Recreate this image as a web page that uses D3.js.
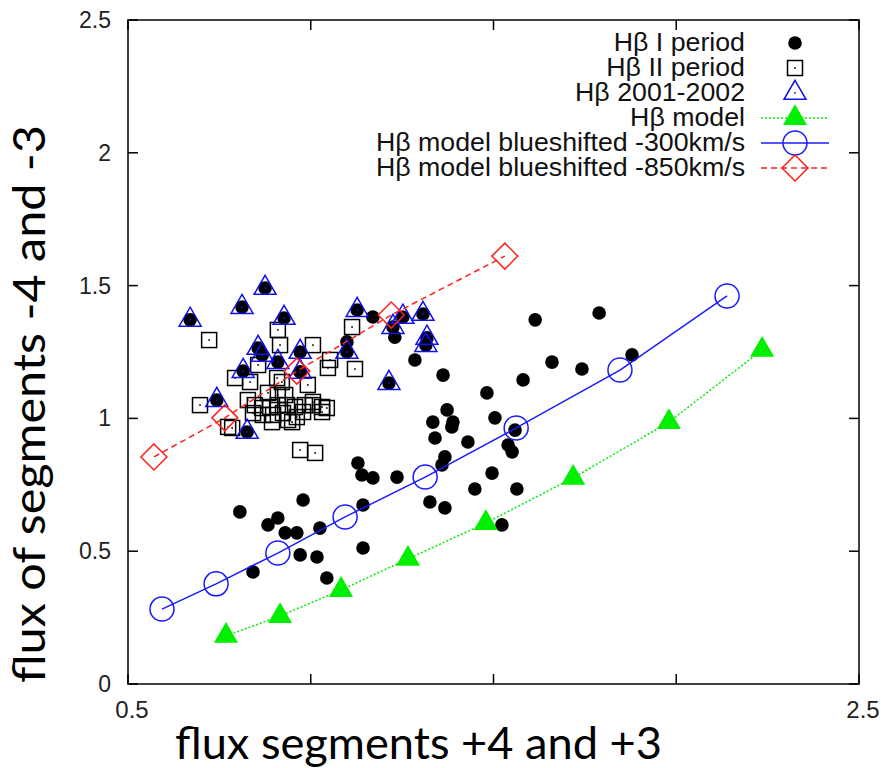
<!DOCTYPE html>
<html>
<head>
<meta charset="utf-8">
<script src="https://cdn.jsdelivr.net/npm/d3@7"></script>
<style>
  body { margin: 0; background: #fff; }
  svg { display: block; }
</style>
</head>
<body>
<div id="chart"></div>
<script>
// Hβ I period (filled black circles), [x, y]
const period1 = [
  [0.670, 1.371], [0.812, 1.419], [0.875, 1.491], [0.927, 1.378], [0.856, 1.265],
  [0.867, 1.239], [0.910, 1.212], [0.971, 1.250], [0.815, 1.178], [0.971, 1.175],
  [0.743, 1.069], [0.826, 0.949], [1.099, 1.250], [1.127, 1.408], [1.225, 1.344],
  [1.252, 1.382], [1.307, 1.393], [1.318, 1.303], [1.315, 1.276], [1.214, 1.133],
  [1.170, 1.382], [1.099, 1.288], [1.230, 1.306], [1.285, 1.220], [1.362, 1.163],
  [1.482, 1.096], [1.614, 1.371], [1.789, 1.397], [1.879, 1.239], [1.742, 1.186],
  [1.660, 1.212], [1.581, 1.145], [1.373, 1.032], [1.334, 0.986], [1.389, 0.986],
  [1.386, 0.968], [1.504, 1.002], [1.340, 0.926], [1.430, 0.911], [1.559, 0.956],
  [1.540, 0.900], [1.551, 0.874], [1.367, 0.855], [1.359, 0.825], [1.236, 0.779],
  [1.170, 0.776], [1.496, 0.794], [1.449, 0.734], [1.564, 0.734], [1.326, 0.685],
  [1.367, 0.663], [1.523, 0.599], [1.129, 0.832], [1.140, 0.787], [0.806, 0.648],
  [0.979, 0.693], [0.910, 0.625], [0.883, 0.599], [0.930, 0.569], [0.962, 0.569],
  [1.025, 0.587], [1.143, 0.674], [0.971, 0.486], [1.017, 0.478], [1.143, 0.512],
  [0.842, 0.422], [1.044, 0.399]
];

// Hβ II period (open squares)
const period2 = [
  [0.722, 1.295], [0.910, 1.333], [0.916, 1.276], [1.006, 1.276], [1.113, 1.344],
  [1.053, 1.220], [1.047, 1.190], [1.121, 1.186], [0.793, 1.152], [0.834, 1.137],
  [0.908, 1.152], [0.992, 1.126], [0.697, 1.050], [0.774, 0.968], [0.785, 0.964],
  [0.828, 1.069], [0.883, 1.096], [0.910, 1.088], [0.930, 1.088], [0.847, 1.050],
  [0.867, 1.039], [0.889, 1.043], [0.910, 1.050], [0.935, 1.050], [0.842, 1.020],
  [0.869, 1.013], [0.897, 1.013], [0.924, 1.020], [0.957, 1.043], [0.984, 1.050],
  [1.006, 1.050], [1.031, 1.043], [1.044, 1.039], [0.938, 0.994], [0.962, 1.005],
  [0.979, 1.024], [1.006, 1.062], [1.031, 1.024], [0.894, 0.986], [0.949, 0.986],
  [0.971, 0.881], [1.012, 0.870], [0.856, 1.201], [0.921, 1.137]
];

// Hβ 2001-2002 (open triangles)
const years2001 = [
  [0.670, 1.371], [0.812, 1.419], [0.875, 1.491], [0.927, 1.378], [0.856, 1.265],
  [0.867, 1.239], [0.910, 1.212], [0.971, 1.250], [0.815, 1.178], [0.971, 1.175],
  [0.743, 1.069], [0.826, 0.949], [1.099, 1.250], [1.127, 1.408], [1.225, 1.344],
  [1.252, 1.382], [1.307, 1.393], [1.318, 1.303], [1.315, 1.276], [1.214, 1.133]
];

// models
const model = [
  [0.768, 0.181], [0.916, 0.256], [1.083, 0.354], [1.266, 0.471],
  [1.479, 0.606], [1.718, 0.776], [1.980, 0.986], [2.235, 1.258]
];
const model300 = [
  [0.593, 0.282], [0.741, 0.377], [0.910, 0.493], [1.094, 0.629],
  [1.313, 0.779], [1.562, 0.964], [1.846, 1.182], [2.139, 1.461]
];
const model850 = [
  [0.571, 0.855], [0.765, 1.002], [0.962, 1.178], [1.220, 1.389], [1.531, 1.611]
];

const yTicks = [0, 0.5, 1, 1.5, 2, 2.5];
const yTickLabels = ["0", "0.5", "1", "1.5", "2", "2.5"];
const xTicks = [0.5, 1, 1.5, 2, 2.5];
const xTickLabels = ["0.5", "", "", "", "2.5"];

const legendLabels = [
  "Hβ I period", "Hβ II period", "Hβ 2001-2002", "Hβ model",
  "Hβ model blueshifted -300km/s", "Hβ model blueshifted -850km/s"
];

const W = 881, H = 768;
const pLeft = 128, pRight = 859, pTop = 20, pBottom = 684;

const svg = d3.select("#chart").append("svg")
  .attr("width", W).attr("height", H);

const x = d3.scaleLinear().domain([0.5, 2.5]).range([pLeft, pRight]);
const y = d3.scaleLinear().domain([0, 2.5]).range([pBottom, pTop]);

const tickFont = "'Liberation Sans', Arial, sans-serif";

// inward ticks on all four sides
const tickLen = 10;
xTicks.forEach(t => {
  svg.append("line").attr("x1", x(t)).attr("x2", x(t)).attr("y1", pBottom).attr("y2", pBottom - tickLen)
    .attr("stroke", "#000").attr("stroke-width", 1.5);
  svg.append("line").attr("x1", x(t)).attr("x2", x(t)).attr("y1", pTop).attr("y2", pTop + tickLen)
    .attr("stroke", "#000").attr("stroke-width", 1.5);
});
yTicks.forEach(t => {
  svg.append("line").attr("x1", pLeft).attr("x2", pLeft + tickLen).attr("y1", y(t)).attr("y2", y(t))
    .attr("stroke", "#000").attr("stroke-width", 1.5);
  svg.append("line").attr("x1", pRight).attr("x2", pRight - tickLen).attr("y1", y(t)).attr("y2", y(t))
    .attr("stroke", "#000").attr("stroke-width", 1.5);
});

// tick labels
yTicks.forEach((t, i) => {
  svg.append("text").attr("x", pLeft - 17).attr("y", y(t) + 8)
    .attr("text-anchor", "end").attr("font-family", tickFont).attr("font-size", 23)
    .attr("fill", "#222").text(yTickLabels[i]);
});
xTicks.forEach((t, i) => {
  if (!xTickLabels[i]) return;
  svg.append("text").attr("x", x(t) + 4).attr("y", pBottom + 34)
    .attr("text-anchor", "middle").attr("font-family", tickFont).attr("font-size", 24)
    .attr("fill", "#222").text(xTickLabels[i]);
});

// frame
svg.append("rect").attr("x", pLeft).attr("y", pTop)
  .attr("width", pRight - pLeft).attr("height", pBottom - pTop)
  .attr("fill", "none").attr("stroke", "#000").attr("stroke-width", 1.5);

// marker paths
function triPath(s) {
  // s = half width
  const h = s * Math.sqrt(3);
  return `M0,${-h * 2 / 3}L${s},${h / 3}L${-s},${h / 3}Z`;
}
function diamondPath(s) {
  return `M0,${-s}L${s},0L0,${s}L${-s},0Z`;
}

const plot = svg.append("g");

// Hβ I period
plot.selectAll("circle.p1").data(period1).join("circle")
  .attr("cx", d => x(d[0])).attr("cy", d => y(d[1])).attr("r", 6.8)
  .attr("fill", "#000");

// Hβ II period
plot.selectAll("g.p2").data(period2).join("g")
  .attr("transform", d => `translate(${x(d[0])},${y(d[1])})`)
  .each(function () {
    const g = d3.select(this);
    g.append("rect").attr("x", -7.5).attr("y", -7.5).attr("width", 15).attr("height", 15)
      .attr("fill", "none").attr("stroke", "#000").attr("stroke-width", 1.5);
    g.append("rect").attr("x", -0.8).attr("y", -0.8).attr("width", 1.6).attr("height", 1.6).attr("fill", "#000");
  });

// Hβ 2001-2002
plot.selectAll("g.p3").data(years2001).join("g")
  .attr("transform", d => `translate(${x(d[0])},${y(d[1])})`)
  .each(function () {
    const g = d3.select(this);
    g.append("path").attr("d", triPath(11)).attr("fill", "none")
      .attr("stroke", "#1010f0").attr("stroke-width", 1.5);
    g.append("rect").attr("x", -0.8).attr("y", -0.8).attr("width", 1.6).attr("height", 1.6).attr("fill", "#1010f0");
  });

const line = d3.line().x(d => x(d[0])).y(d => y(d[1]));

// Hβ model (green dotted, filled triangles)
plot.append("path").datum(model).attr("d", line).attr("fill", "none")
  .attr("stroke", "#00ee00").attr("stroke-width", 1.5).attr("stroke-dasharray", "2,2");
plot.selectAll("path.m0").data(model).join("path")
  .attr("transform", d => `translate(${x(d[0])},${y(d[1])})`)
  .attr("d", triPath(12)).attr("fill", "#00ee00");

// -300 km/s (blue solid, open circles)
plot.append("path").datum(model300).attr("d", line).attr("fill", "none")
  .attr("stroke", "#1a1aff").attr("stroke-width", 1.5);
plot.selectAll("circle.m3").data(model300).join("circle")
  .attr("cx", d => x(d[0])).attr("cy", d => y(d[1])).attr("r", 12)
  .attr("fill", "none").attr("stroke", "#1a1aff").attr("stroke-width", 1.5);

// -850 km/s (red dashed, open diamonds)
plot.append("path").datum(model850).attr("d", line).attr("fill", "none")
  .attr("stroke", "#ff2020").attr("stroke-width", 1.5).attr("stroke-dasharray", "6,4");
plot.selectAll("path.m8").data(model850).join("path")
  .attr("transform", d => `translate(${x(d[0])},${y(d[1])})`)
  .attr("d", diamondPath(13)).attr("fill", "none")
  .attr("stroke", "#ff2020").attr("stroke-width", 1.5);

// legend
const legX = 745, symX = 795, lineX1 = 761, lineX2 = 829;
legendLabels.forEach((lab, i) => {
  const cy = 43 + i * 25;
  svg.append("text").attr("transform", `translate(${legX},${cy + 8}) scale(1.07,1)`)
    .attr("text-anchor", "end")
    .attr("font-family", tickFont).attr("font-size", 25).attr("fill", "#111").text(lab);
  const g = svg.append("g").attr("transform", `translate(${symX},${cy})`);
  if (i === 0) {
    g.append("circle").attr("r", 6.8).attr("fill", "#000");
  } else if (i === 1) {
    g.append("rect").attr("x", -7.5).attr("y", -7.5).attr("width", 15).attr("height", 15)
      .attr("fill", "none").attr("stroke", "#000").attr("stroke-width", 1.5);
    g.append("rect").attr("x", -0.8).attr("y", -0.8).attr("width", 1.6).attr("height", 1.6).attr("fill", "#000");
  } else if (i === 2) {
    g.append("path").attr("d", triPath(11)).attr("fill", "none")
      .attr("stroke", "#1010f0").attr("stroke-width", 1.5);
    g.append("rect").attr("x", -0.8).attr("y", -0.8).attr("width", 1.6).attr("height", 1.6).attr("fill", "#1010f0");
  } else if (i === 3) {
    g.append("line").attr("x1", lineX1 - symX).attr("x2", lineX2 - symX)
      .attr("stroke", "#00ee00").attr("stroke-width", 1.5).attr("stroke-dasharray", "2,2");
    g.append("path").attr("d", triPath(12)).attr("fill", "#00ee00");
  } else if (i === 4) {
    g.append("line").attr("x1", lineX1 - symX).attr("x2", lineX2 - symX)
      .attr("stroke", "#1a1aff").attr("stroke-width", 1.5);
    g.append("circle").attr("r", 12).attr("fill", "none").attr("stroke", "#1a1aff").attr("stroke-width", 1.5);
  } else {
    g.append("line").attr("x1", lineX1 - symX).attr("x2", lineX2 - symX)
      .attr("stroke", "#ff2020").attr("stroke-width", 1.5).attr("stroke-dasharray", "6,4");
    g.append("path").attr("d", diamondPath(13)).attr("fill", "none")
      .attr("stroke", "#ff2020").attr("stroke-width", 1.5);
  }
});

// axis titles
const titleFont = "Lato, 'Open Sans', sans-serif";
svg.append("text").attr("x", (175 + 662) / 2).attr("y", 759)
  .attr("text-anchor", "middle").attr("font-family", titleFont).attr("font-size", 45)
  .attr("textLength", 487).attr("lengthAdjust", "spacingAndGlyphs")
  .attr("fill", "#000").text("flux segments +4 and +3");
svg.append("text").attr("transform", `translate(45,${(125 + 683) / 2}) rotate(-90)`)
  .attr("text-anchor", "middle").attr("font-family", titleFont).attr("font-size", 45)
  .attr("textLength", 558).attr("lengthAdjust", "spacingAndGlyphs")
  .attr("fill", "#000").text("flux of segments -4 and -3");
</script>
</body>
</html>
